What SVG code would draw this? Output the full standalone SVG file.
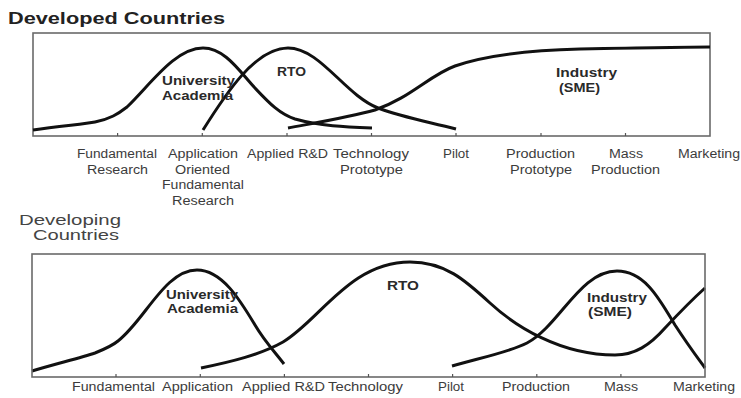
<svg xmlns="http://www.w3.org/2000/svg" width="741" height="398" viewBox="0 0 741 398">
<style>
.bg{fill:#ffffff}
.frame{fill:none;stroke:#6a6a6a;stroke-width:1.6}
.tick{stroke:#555;stroke-width:1.2}
.curve{fill:none;stroke:#111;stroke-width:3;stroke-linejoin:round}
.lbl{font-family:"Liberation Sans",Arial,sans-serif;font-size:12px;fill:#3c3c3c}
.in{font-family:"Liberation Sans",Arial,sans-serif;font-size:12px;font-weight:bold;fill:#2a2a2a}
.t1{font-family:"Liberation Sans",Arial,sans-serif;font-size:16px;font-weight:bold;fill:#222}
.t2{font-family:"Liberation Sans",Arial,sans-serif;font-size:14px;fill:#444}
</style>
<rect class="bg" x="0" y="0" width="741" height="398"/>

<g id="title-developed">
<text class="t1" x="8" y="24" textLength="217" lengthAdjust="spacingAndGlyphs">Developed Countries</text>
</g>

<g id="panel-developed">
<rect class="frame" x="33" y="33" width="677" height="103"/>
<g id="ticks-top">
<line class="tick" x1="117.6" y1="133" x2="117.6" y2="136"/>
<line class="tick" x1="202.3" y1="133" x2="202.3" y2="136"/>
<line class="tick" x1="287" y1="133" x2="287" y2="136"/>
<line class="tick" x1="371.5" y1="133" x2="371.5" y2="136"/>
<line class="tick" x1="456" y1="133" x2="456" y2="136"/>
<line class="tick" x1="541" y1="133" x2="541" y2="136"/>
<line class="tick" x1="625.5" y1="133" x2="625.5" y2="136"/>
</g>
<g id="axis-labels-top">
<text class="lbl" x="77" y="158" textLength="80" lengthAdjust="spacingAndGlyphs">Fundamental</text>
<text class="lbl" x="87" y="174" textLength="61" lengthAdjust="spacingAndGlyphs">Research</text>
<text class="lbl" x="168" y="158" textLength="70" lengthAdjust="spacingAndGlyphs">Application</text>
<text class="lbl" x="175" y="174" textLength="55" lengthAdjust="spacingAndGlyphs">Oriented</text>
<text class="lbl" x="162" y="189" textLength="82" lengthAdjust="spacingAndGlyphs">Fundamental</text>
<text class="lbl" x="172" y="205" textLength="62" lengthAdjust="spacingAndGlyphs">Research</text>
<text class="lbl" x="247" y="158" textLength="81" lengthAdjust="spacingAndGlyphs">Applied R&amp;D</text>
<text class="lbl" x="333" y="158" textLength="76" lengthAdjust="spacingAndGlyphs">Technology</text>
<text class="lbl" x="340" y="174" textLength="63" lengthAdjust="spacingAndGlyphs">Prototype</text>
<text class="lbl" x="443" y="158" textLength="26" lengthAdjust="spacingAndGlyphs">Pilot</text>
<text class="lbl" x="506" y="158" textLength="69" lengthAdjust="spacingAndGlyphs">Production</text>
<text class="lbl" x="510" y="174" textLength="62" lengthAdjust="spacingAndGlyphs">Prototype</text>
<text class="lbl" x="609" y="158" textLength="34" lengthAdjust="spacingAndGlyphs">Mass</text>
<text class="lbl" x="591" y="174" textLength="69" lengthAdjust="spacingAndGlyphs">Production</text>
<text class="lbl" x="678" y="158" textLength="62" lengthAdjust="spacingAndGlyphs">Marketing</text>
</g>
</g>

<g id="connectors">
<path id="top-university" class="curve" d="M33,130 C60,126 85,124 95,122 C110,119 118,114 127,107 C150,85 175,48 203,48 C225,48 240,72 255,88 C270,104 280,114 295,119 C320,126 345,127 372,128"/>
<path id="top-rto" class="curve" d="M203,130 C225,95 255,48 288,48 C320,48 345,95 378,108 C405,118 430,122 456,129"/>
<path id="top-industry" class="curve" d="M288,128 C320,122 350,117 375,110 C410,98 430,75 455,66 C490,54 540,50 580,49 C630,48 680,47 710,47"/>
<path id="bottom-university" class="curve" d="M32,371 C55,364 80,358 95,353 C105,349 112,346 118,341 C145,320 165,270 197,270 C222,270 240,300 255,325 C265,342 275,352 284,364"/>
<path id="bottom-rto" class="curve" d="M201,368 C230,362 260,355 283,342 C320,320 350,262 410,262 C445,262 465,280 490,303 C515,326 560,355 615,355 C635,355 650,345 665,328 C680,312 695,297 705,288"/>
<path id="bottom-industry" class="curve" d="M452,366 C480,358 510,352 527,343 C560,325 580,271 617,271 C645,271 660,300 675,325 C688,345 697,357 705,368"/>
</g>

<g id="node-top-university">
<text class="in" x="162" y="85" textLength="73" lengthAdjust="spacingAndGlyphs">University</text>
<text class="in" x="162" y="100" textLength="71" lengthAdjust="spacingAndGlyphs">Academia</text>
</g>
<g id="node-top-rto">
<text class="in" x="277" y="76" textLength="29" lengthAdjust="spacingAndGlyphs">RTO</text>
</g>
<g id="node-top-industry">
<text class="in" x="556" y="77" textLength="61" lengthAdjust="spacingAndGlyphs">Industry</text>
<text class="in" x="559" y="92" textLength="41" lengthAdjust="spacingAndGlyphs">(SME)</text>
</g>

<g id="title-developing">
<text class="t2" x="19" y="225" textLength="102" lengthAdjust="spacingAndGlyphs">Developing</text>
<text class="t2" x="33" y="240" textLength="86" lengthAdjust="spacingAndGlyphs">Countries</text>
</g>

<g id="panel-developing">
<rect class="frame" x="32" y="254" width="673" height="123"/>
<g id="ticks-bottom">
<line class="tick" x1="116" y1="374" x2="116" y2="377"/>
<line class="tick" x1="200.3" y1="374" x2="200.3" y2="377"/>
<line class="tick" x1="284.4" y1="374" x2="284.4" y2="377"/>
<line class="tick" x1="368.5" y1="374" x2="368.5" y2="377"/>
<line class="tick" x1="452.6" y1="374" x2="452.6" y2="377"/>
<line class="tick" x1="536.8" y1="374" x2="536.8" y2="377"/>
<line class="tick" x1="620.9" y1="374" x2="620.9" y2="377"/>
</g>
<g id="axis-labels-bottom">
<text class="lbl" x="72" y="391" textLength="83" lengthAdjust="spacingAndGlyphs">Fundamental</text>
<text class="lbl" x="162" y="391" textLength="71" lengthAdjust="spacingAndGlyphs">Application</text>
<text class="lbl" x="242" y="391" textLength="83" lengthAdjust="spacingAndGlyphs">Applied R&amp;D</text>
<text class="lbl" x="328" y="391" textLength="75" lengthAdjust="spacingAndGlyphs">Technology</text>
<text class="lbl" x="438" y="391" textLength="26" lengthAdjust="spacingAndGlyphs">Pilot</text>
<text class="lbl" x="502" y="391" textLength="68" lengthAdjust="spacingAndGlyphs">Production</text>
<text class="lbl" x="604" y="391" textLength="34" lengthAdjust="spacingAndGlyphs">Mass</text>
<text class="lbl" x="673" y="391" textLength="62" lengthAdjust="spacingAndGlyphs">Marketing</text>
</g>
</g>

<g id="node-bottom-university">
<text class="in" x="166" y="299" textLength="72" lengthAdjust="spacingAndGlyphs">University</text>
<text class="in" x="167" y="313" textLength="71" lengthAdjust="spacingAndGlyphs">Academia</text>
</g>
<g id="node-bottom-rto">
<text class="in" x="387" y="290" textLength="32" lengthAdjust="spacingAndGlyphs">RTO</text>
</g>
<g id="node-bottom-industry">
<text class="in" x="587" y="302" textLength="60" lengthAdjust="spacingAndGlyphs">Industry</text>
<text class="in" x="588" y="316" textLength="44" lengthAdjust="spacingAndGlyphs">(SME)</text>
</g>
</svg>
